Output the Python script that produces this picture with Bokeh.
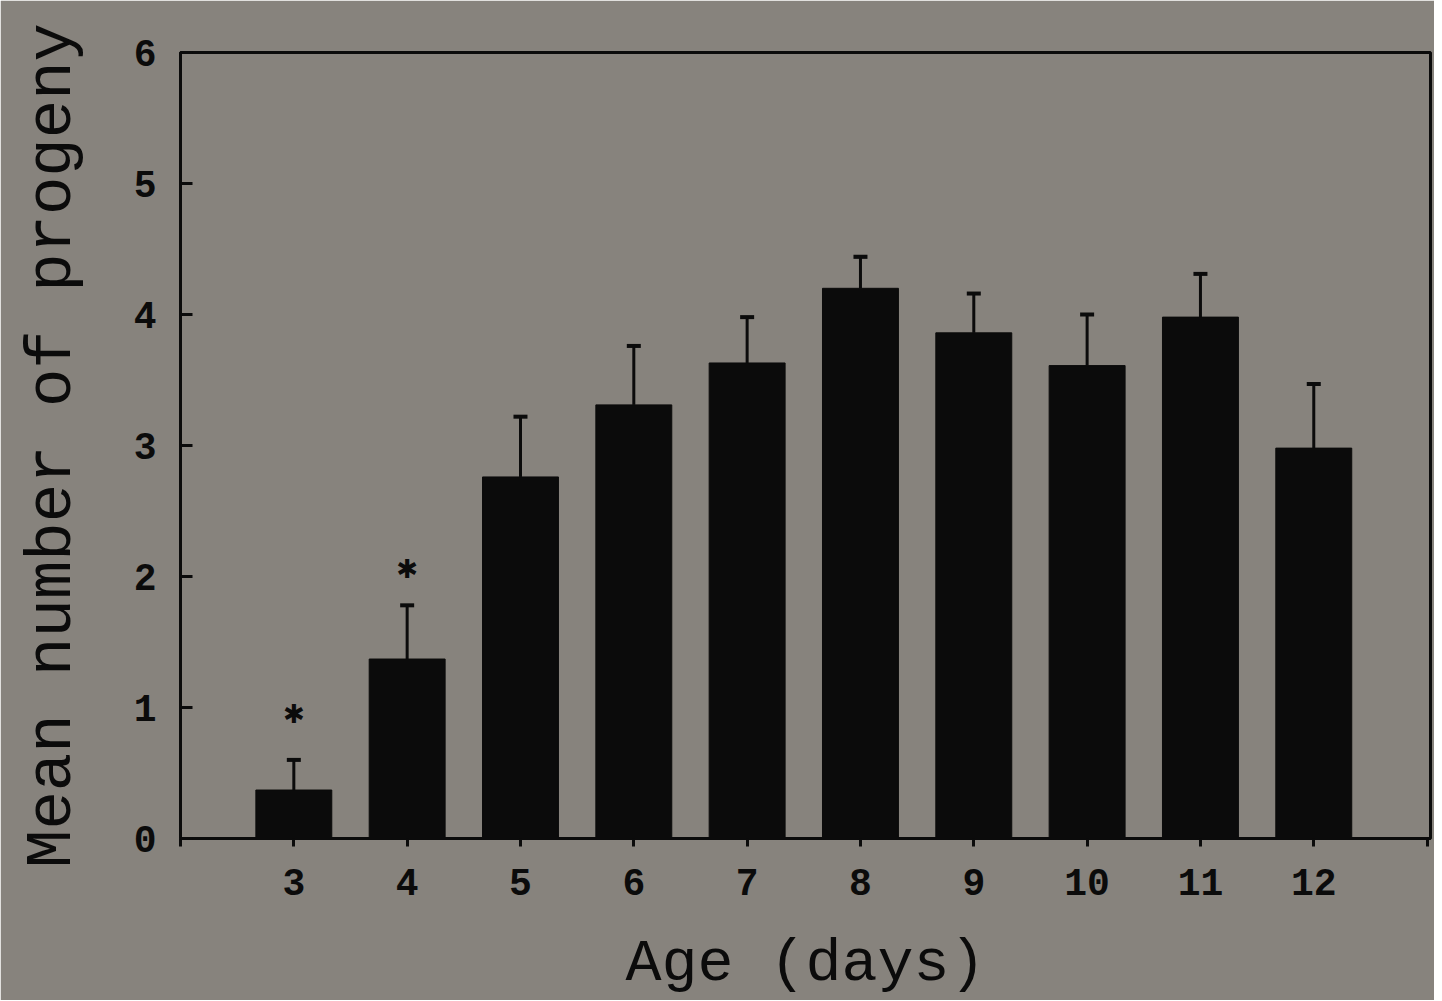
from bokeh.plotting import figure
from bokeh.models import ColumnDataSource, Whisker, TeeHead, FixedTicker, Range1d
from bokeh.core.properties import value
from bokeh.embed import file_html
from bokeh.resources import INLINE

# Data
ages = [3, 4, 5, 6, 7, 8, 9, 10, 11, 12]
mean_progeny = [0.37, 1.37, 2.76, 3.31, 3.63, 4.20, 3.86, 3.61, 3.98, 2.98]
error_upper = [0.60, 1.78, 3.22, 3.76, 3.98, 4.44, 4.16, 4.00, 4.31, 3.47]
sig_ages = [3, 4]
sig_y = [0.95, 2.06]
sig_text = ["\u2731", "\u2731"]
x_ticks = [2, 3, 4, 5, 6, 7, 8, 9, 10, 11, 12, 13]
y_ticks = [0, 1, 2, 3, 4, 5, 6]

BG = "#87837d"
INK = "#0b0b0b"
FONT = "Liberation Mono"

p = figure(
    output_backend="svg", toolbar_location=None,
    frame_width=1250, frame_height=786,
    min_border_left=180, min_border_top=52, min_border_right=4, min_border_bottom=150,
    x_range=Range1d(2, 13.03), y_range=Range1d(0, 6),
    background_fill_color=BG, border_fill_color=BG,
)
p.grid.visible = False
p.outline_line_color = INK
p.outline_line_width = 3

src = ColumnDataSource(dict(x=ages, top=mean_progeny, upper=error_upper))
p.vbar(x="x", top="top", bottom=0, width=0.67, source=src,
       fill_color=INK, line_color=INK)

w = Whisker(source=src, base="x", lower="top", upper="upper",
            line_color=INK, line_width=3,
            upper_head=TeeHead(size=14, line_color=INK, line_width=4),
            lower_head=None)
p.add_layout(w)

p.text(x=sig_ages, y=sig_y, text=sig_text, text_font=value("DejaVu Sans"),
       text_font_size="26px", text_color=INK,
       text_align="center", text_baseline="middle")

# X axis
xa = p.xaxis[0]
xa.ticker = FixedTicker(ticks=x_ticks)
xa.major_label_overrides = {2: "", 13: ""}
xa.axis_label = "Age (days)"
xa.axis_label_text_font = FONT
xa.axis_label_text_font_style = "normal"
xa.axis_label_text_font_size = "60px"
xa.axis_label_text_color = INK
xa.axis_label_standoff = 32
xa.major_label_text_font = FONT
xa.major_label_text_font_style = "bold"
xa.major_label_text_font_size = "38px"
xa.major_label_text_color = INK
xa.major_label_standoff = 22
xa.major_tick_in = 0
xa.major_tick_out = 8
xa.major_tick_line_width = 3
xa.major_tick_line_color = INK
xa.minor_tick_line_color = None
xa.axis_line_width = 3
xa.axis_line_color = INK

# Y axis
ya = p.yaxis[0]
ya.ticker = FixedTicker(ticks=y_ticks)
ya.axis_label = "Mean number of progeny"
ya.axis_label_text_font = FONT
ya.axis_label_text_font_style = "normal"
ya.axis_label_text_font_size = "64px"
ya.axis_label_text_color = INK
ya.axis_label_standoff = 42
ya.major_label_text_font = FONT
ya.major_label_text_font_style = "bold"
ya.major_label_text_font_size = "38px"
ya.major_label_text_color = INK
ya.major_label_standoff = 24
ya.major_label_orientation = "horizontal"
ya.major_tick_in = 12
ya.major_tick_out = 0
ya.major_tick_line_width = 3
ya.major_tick_line_color = INK
ya.minor_tick_line_color = None
ya.axis_line_width = 3
ya.axis_line_color = INK

open("out.html", "w").write(file_html(p, INLINE))
